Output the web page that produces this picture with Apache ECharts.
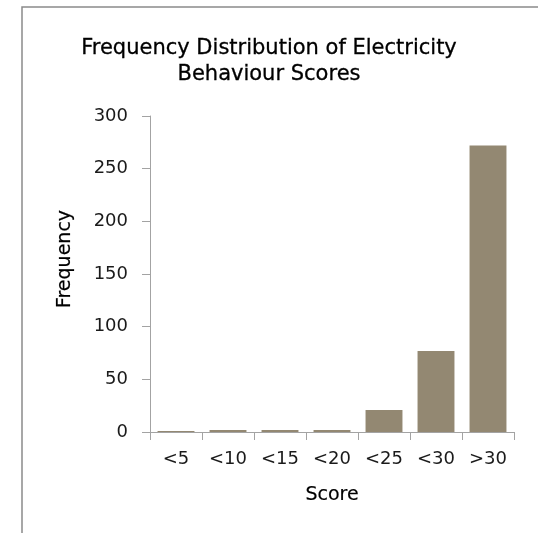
<!DOCTYPE html>
<html>
<head>
<meta charset="utf-8">
<script src="https://cdn.jsdelivr.net/npm/echarts@6/dist/echarts.min.js"></script>
<style>
html,body{margin:0;padding:0;background:#fff;}
#chart{width:538px;height:533px;}
</style>
</head>
<body>
<div id="chart"></div>
<script>
var categories = ['<5', '<10', '<15', '<20', '<25', '<30', '>30'];
var frequencies = [1, 2, 2, 2, 21, 77, 272];
var yTicks = [0, 50, 100, 150, 200, 250, 300];

var chart = echarts.init(document.getElementById('chart'), null, {renderer: 'canvas'});
var font = 'DejaVu Sans';
chart.setOption({
  animation: false,
  backgroundColor: '#ffffff',
  title: {
    text: 'Frequency Distribution of Electricity\nBehaviour Scores',
    left: 'center',
    top: 36,
    padding: 0,
    textStyle: {
      fontFamily: font,
      fontSize: 21,
      fontWeight: 'normal',
      color: '#000000',
      lineHeight: 26,
      textBorderColor: '#000000',
      textBorderWidth: 0.3
    }
  },
  graphic: [{
    type: 'rect',
    shape: {x: 22, y: 7, width: 1000, height: 1000},
    style: {fill: 'none', stroke: '#8a8a8a', lineWidth: 1.5},
    silent: true
  }],
  grid: {left: 150, right: 24, top: 116, bottom: 101, containLabel: false},
  xAxis: {
    type: 'category',
    data: categories,
    name: 'Score',
    nameLocation: 'middle',
    nameGap: 54,
    nameTextStyle: {fontFamily: font, fontSize: 19, color: '#000', textBorderColor: '#000', textBorderWidth: 0.2},
    axisLine: {lineStyle: {color: '#a3a3a3', width: 1}},
    axisTick: {show: true, length: 8, alignWithLabel: false, lineStyle: {color: '#a3a3a3'}},
    axisLabel: {fontFamily: font, fontSize: 18, color: '#1a1a1a', margin: 18, interval: 0}
  },
  yAxis: {
    type: 'value',
    min: yTicks[0],
    max: yTicks[yTicks.length - 1],
    interval: yTicks[1] - yTicks[0],
    name: 'Frequency',
    nameLocation: 'middle',
    nameGap: 75,
    nameRotate: 90,
    nameTextStyle: {fontFamily: font, fontSize: 19, color: '#000', padding: [0, 0, 0, 30], textBorderColor: '#000', textBorderWidth: 0.2},
    axisLine: {show: true, lineStyle: {color: '#a3a3a3', width: 1}},
    axisTick: {show: true, length: 8, lineStyle: {color: '#a3a3a3'}},
    splitLine: {show: false},
    axisLabel: {fontFamily: font, fontSize: 18, color: '#1a1a1a', margin: 22}
  },
  series: [{
    type: 'bar',
    data: frequencies,
    barCategoryGap: '29%',
    itemStyle: {color: '#938872'}
  }]
});
</script>
</body>
</html>
